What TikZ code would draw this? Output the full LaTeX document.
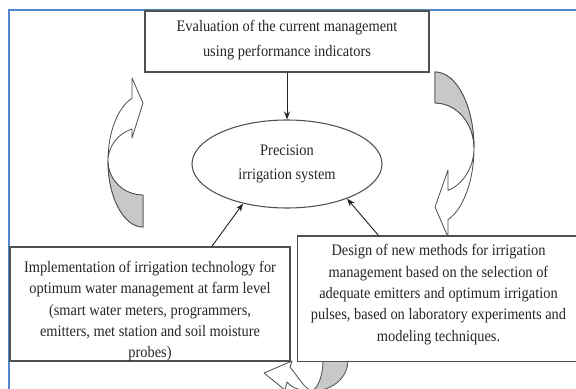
\documentclass[tikz,border=0pt]{standalone}
\usepackage{fontspec}
\setmainfont{Liberation Serif}[FakeStretch=0.9]
\definecolor{frameblue}{RGB}{84,136,204}
\definecolor{boxgray}{RGB}{80,80,80}
\definecolor{ribbongray}{RGB}{200,200,200}
\usetikzlibrary{arrows.meta,positioning,calc,shapes.geometric}

\begin{document}
\begin{tikzpicture}[x=0.75pt, y=-0.75pt,
  box/.style={draw=boxgray, line width=1pt, fill=white, inner sep=0pt},
  boxtext/.style={align=center, inner sep=0pt, text=black!85, font=\fontsize{12}{16}\selectfont},
  ribbon/.style={draw=black!70, line width=0.6pt, fill=white, line join=round},
  ribbonback/.style={ribbon, fill=ribbongray},
  link/.style={-{Stealth[length=6pt,width=4.5pt]}, line width=0.7pt, black!85}]
  \useasboundingbox (0,0) rectangle (576,389);
  \clip (0,0) rectangle (576,389);
  \fill[white] (0,0) rectangle (576,389);

  % Frame
  \draw[frameblue, line width=1.5pt] (8.5,600) |- (700,9.5);

  % Curved cycle arrows
  \filldraw[ribbon] (132,98) -- (132,78) -- (143,103) -- (132,138) -- (132,129) arc[start angle=251.7, end angle=90, x radius=35, y radius=34] -- (143,227) arc[start angle=90, end angle=251.7, x radius=35, y radius=66] -- cycle;
  \filldraw[ribbonback] (143,227) arc[start angle=90, end angle=180, x radius=35, y radius=66] arc[start angle=180, end angle=90, x radius=35, y radius=34] -- cycle;

  \filldraw[ribbon] (435,72) arc[start angle=-90, end angle=70.5, x radius=39, y radius=76] -- (448,237) -- (435,207) -- (448,170) -- (448,190.4) arc[start angle=70.5, end angle=-90, x radius=39, y radius=45] -- cycle;
  \filldraw[ribbonback] (435,72) arc[start angle=-90, end angle=0, x radius=39, y radius=76] arc[start angle=0, end angle=-90, x radius=39, y radius=45] -- cycle;

  \filldraw[ribbon] (312,391) .. controls (300,391) and (292,388) .. (287,382) -- (285,390) -- (264,373) -- (292,361) -- (290,367) .. controls (298,377) and (305,389) .. (312,391) -- cycle;
  \filldraw[ribbonback] (312,391) .. controls (335,391) and (348,375) .. (348,361) -- (323,361) .. controls (323,375) and (318,388) .. (312,391) -- cycle;

  % Boxes
  \node[box, minimum width=213pt, minimum height=45.75pt] (eval) at (287,41.5) {};
  \node[boxtext, font=\fontsize{12}{18.5}\selectfont] (evaltext) at ([yshift=1pt]eval.center) {Evaluation of the current management\\using performance indicators};

  \node[draw=boxgray, line width=0.8pt, fill=white, ellipse, minimum width=142.5pt, minimum height=66pt, inner sep=0pt, boxtext, font=\fontsize{12}{18.5}\selectfont] (pis) at (287,164) {Precision\\irrigation system};

  \node[box, minimum width=210pt, minimum height=85.5pt] (impl) at (150,304) {};
  \node[boxtext] (impltext) at ([yshift=-5.5pt]impl.center) {Implementation of irrigation technology for\\optimum water management at farm level\\(smart water meters, programmers,\\emitters, met station and soil moisture\\probes)};

  \node[box, minimum width=218pt, minimum height=94pt] (design) at (442.5,298.5) {};
  \node[boxtext] (designtext) at ([xshift=-3pt, yshift=3pt]design.center) {Design of new methods for irrigation\\management based on the selection of\\adequate emitters and optimum irrigation\\pulses, based on laboratory experiments and\\modeling techniques.};

  % Arrows into the system
  \draw[link] (eval) -- (pis);
  \draw[link] ($(impl.north west)!0.72!(impl.north east)$) -- (pis.222);
  \draw[link] ($(design.north west)!0.28!(design.north east)$) -- (pis.330);
\end{tikzpicture}
\end{document}
